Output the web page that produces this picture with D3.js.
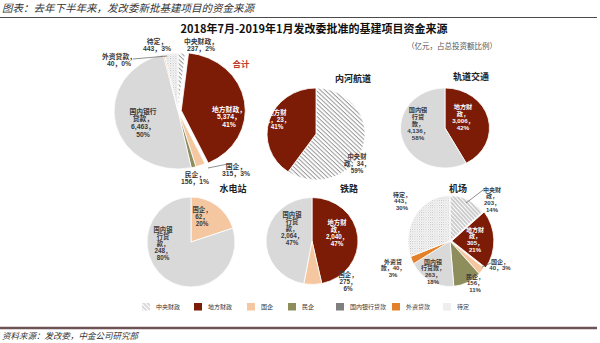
<!DOCTYPE html>
<html><head><meta charset="utf-8">
<script src="https://cdn.jsdelivr.net/npm/d3@7"></script>
<style>body{margin:0;background:#fff}svg{display:block}</style>
</head><body>
<script>
// ---------- DATA ----------
const categories = ["中央财政","地方财政","国企","民企","国内银行贷款","外资贷款","待定"];
const pieTitles = ["合计","内河航道","轨道交通","水电站","铁路","机场"];
const totalValues   = [237,5374,315,156,6463,40,443];
const totalPct      = ["2%","41%","3%","1%","50%","0%","3%"];
const inlandValues  = [34,23,0,0,0,0,0];
const inlandPct     = ["59%","41%","","","","",""];
const transitValues = [0,3006,0,0,4136,0,0];
const transitPct    = ["","42%","","","58%","",""];
const hydroValues   = [0,0,62,0,248,0,0];
const hydroPct      = ["","","20%","","80%","",""];
const railValues    = [0,2040,275,0,2064,0,0];
const railPct       = ["","47%","6%","","47%","",""];
const airportValues = [203,305,40,156,263,40,443];
const airportPct    = ["14%","21%","3%","11%","18%","3%","30%"];

// ---------- STYLE ----------
const sliceFill  = ["url(#hatch)","#7d1c06","#f5c7a0","#8e8d5c","#d9d9d9","#e2812a","url(#dots)"];
const legendFill = ["url(#hatchL)","#7d1c06","#f5c7a0","#8e8d5c","#7f7f7f","#e2812a","#eeeeee"];
const FONT = '"Noto Sans CJK SC","Noto Sans",sans-serif';
const LABEL_FONT = '"Liberation Sans","Noto Sans CJK SC",sans-serif';

const W = 600, H = 343;
const svg = d3.select("body").append("svg").attr("width", W).attr("height", H)
  .style("font-family", FONT);

const defs = svg.append("defs");
const ph = defs.append("pattern").attr("id","hatch").attr("patternUnits","userSpaceOnUse")
  .attr("width",3).attr("height",3).attr("patternTransform","rotate(-45)");
ph.append("rect").attr("width",3).attr("height",3).attr("fill","#fff");
ph.append("line").attr("x1",1).attr("x2",1).attr("y1",0).attr("y2",3).attr("stroke","#9a9a9a").attr("stroke-width",1);
const phL = defs.append("pattern").attr("id","hatchL").attr("patternUnits","userSpaceOnUse")
  .attr("width",3).attr("height",3).attr("patternTransform","rotate(-45)");
phL.append("rect").attr("width",3).attr("height",3).attr("fill","#fff");
phL.append("line").attr("x1",1).attr("x2",1).attr("y1",0).attr("y2",3).attr("stroke","#aaa").attr("stroke-width",0.9);
const pd = defs.append("pattern").attr("id","dots").attr("patternUnits","userSpaceOnUse")
  .attr("width",2.4).attr("height",2.4);
pd.append("rect").attr("width",2.4).attr("height",2.4).attr("fill","#fff");
pd.append("rect").attr("width",1).attr("height",1).attr("fill","#b5b5b5");
pd.append("rect").attr("x",1.2).attr("y",1.2).attr("width",1).attr("height",1).attr("fill","#d0d0d0");

// ---------- HEADER / FOOTER ----------
svg.append("text").attr("x",2).attr("y",9.5).attr("dominant-baseline","middle")
  .attr("font-size",10.5).attr("font-style","italic").attr("fill","#333")
  .text("图表：去年下半年来，发改委新批基建项目的资金来源");
svg.append("line").attr("x1",0).attr("x2",597).attr("y1",17.5).attr("y2",17.5)
  .attr("stroke","#4a4a4a").attr("stroke-width",1.2);
svg.append("line").attr("x1",0).attr("x2",597).attr("y1",328).attr("y2",328)
  .attr("stroke","#6d5356").attr("stroke-width",2.5);
svg.append("text").attr("x",2).attr("y",336.5).attr("dominant-baseline","middle")
  .attr("font-size",8.5).attr("font-style","italic").attr("fill","#333")
  .text("资料来源：发改委，中金公司研究部");

svg.append("text").attr("x",314).attr("y",30).attr("text-anchor","middle").attr("dominant-baseline","middle")
  .attr("font-size",11).attr("font-weight","bold").attr("fill","#111")
  .text("2018年7月-2019年1月发改委批准的基建项目资金来源");
svg.append("text").attr("x",452).attr("y",47).attr("text-anchor","middle").attr("dominant-baseline","middle")
  .attr("font-size",7.5).attr("fill","#555")
  .text("（亿元，占总投资额比例）");

// ---------- PIE LAYOUT ----------
const pies = [
  {t:0, values: totalValues, pct: totalPct, cx:178, cy:111, rx:64, ry:58, explode:{1:3},
   titleAt:[241,65], titleColor:"#c0392b", titleSize:8.5, fs:6.8, lh:7.6,
   labels:[
     {i:0, lines:["中央财政，","{v}，{p}"], at:[23,-69]},
     {i:1, lines:["地方财政，","{v}，","{p}"], at:[51,-1], white:true},
     {i:2, lines:["国企，","{v}，{p}"], at:[58,56], leader:[[50,53],[30,57]]},
     {i:3, lines:["民企，","{v}，{p}"], at:[17,64]},
     {i:4, lines:["国内银行","贷款，","{v}，","{p}"], at:[-35,1]},
     {i:5, lines:["外资贷款，","{v}，{p}"], at:[-59,-54], leader:[[-45,-52],[-11,-55]]},
     {i:6, lines:["待定，","{v}，{p}"], at:[-21,-69]}
   ]},
  {t:1, values: inlandValues, pct: inlandPct, cx:316, cy:134, rx:49, ry:46,
   titleAt:[353,80], fs:6.3, lh:7.2,
   labels:[
     {i:1, lines:["地方财","政，{v}，","{p}"], at:[-39,-21], white:true},
     {i:0, lines:["中央财","政，{v}，","{p}"], at:[41,23]}
   ]},
  {t:2, values: transitValues, pct: transitPct, cx:445, cy:128, rx:44.5, ry:40,
   titleAt:[471,78], fs:6.2, lh:7,
   labels:[
     {i:1, lines:["地方财","政，","{v}，","{p}"], at:[18,-21], white:true},
     {i:4, lines:["国内银","行贷","款，","{v}，","{p}"], at:[-27,-18]}
   ]},
  {t:3, values: hydroValues, pct: hydroPct, cx:191, cy:242, rx:44, ry:45,
   titleAt:[233,190], fs:6.3, lh:7.1,
   labels:[
     {i:2, lines:["国企，","{v}，","{p}"], at:[11,-32]},
     {i:4, lines:["国内银","行贷","款，","{v}，","{p}"], at:[-28,-12]}
   ]},
  {t:4, values: railValues, pct: railPct, cx:312, cy:241, rx:46, ry:43.5,
   titleAt:[349,190], fs:6.3, lh:7.2,
   labels:[
     {i:1, lines:["地方财","政，","{v}，","{p}"], at:[25,-18], white:true},
     {i:4, lines:["国内银","行贷","款，","{v}，","{p}"], at:[-20,-26]},
     {i:2, lines:["国企，","{v}，","{p}"], at:[36,34]}
   ]},
  {t:5, values: airportValues, pct: airportPct, cx:450, cy:241, rx:42, ry:45.5, explode:{1:2},
   titleAt:[458,190], fs:6, lh:6.9,
   labels:[
     {i:0, lines:["中央财","政，","{v}，","{p}"], at:[42,-51], leader:[[33,-51],[16,-38]]},
     {i:6, lines:["待定，","{v}，","{p}"], at:[-48,-46]},
     {i:1, lines:["地方财","政，","{v}，","{p}"], at:[25,-11], white:true},
     {i:2, lines:["国企，","{v}，{p}"], at:[50,21], leader:[[41,22],[32,26]]},
     {i:3, lines:["民企，","{v}，","{p}"], at:[25,36]},
     {i:4, lines:["国内银","行贷款，","{v}，","{p}"], at:[-17,21]},
     {i:5, lines:["外资贷","款，{v}，","{p}"], at:[-57,21]}
   ]}
];

const fmt = d3.format(",");
const pieGen = d3.pie().sort(null).value(d => d.v).startAngle(0).endAngle(2*Math.PI);

pies.forEach(p => {
  const arcGen = d3.arc().innerRadius(0).outerRadius(p.ry);
  const arcs = pieGen(p.values.map((v,i) => ({v, i})));
  const g = svg.append("g").attr("transform", `translate(${p.cx},${p.cy}) scale(${p.rx/p.ry},1)`);
  g.selectAll("path").data(arcs.filter(a => a.data.v > 0)).join("path")
    .attr("d", arcGen)
    .attr("fill", a => sliceFill[a.data.i])
    .attr("stroke", "#fff").attr("stroke-width", 0.8)
    .attr("vector-effect","non-scaling-stroke")
    .attr("transform", a => {
      const e = p.explode && p.explode[a.data.i];
      if (!e) return null;
      const m = (a.startAngle + a.endAngle)/2;
      return `translate(${Math.sin(m)*e},${-Math.cos(m)*e})`;
    });

  // title
  svg.append("text").attr("x", p.titleAt[0]).attr("y", p.titleAt[1])
    .attr("text-anchor","middle").attr("dominant-baseline","middle")
    .attr("font-size", p.titleSize || 9).attr("font-weight","bold")
    .attr("fill", p.titleColor || "#222")
    .text(pieTitles[p.t]);

  // labels
  p.labels.forEach(l => {
    if (l.leader) {
      svg.append("line")
        .attr("x1", p.cx + l.leader[0][0]).attr("y1", p.cy + l.leader[0][1])
        .attr("x2", p.cx + l.leader[1][0]).attr("y2", p.cy + l.leader[1][1])
        .attr("stroke","#444").attr("stroke-width",0.6);
    }
    l.lines.forEach((ln, k) => {
      const s = ln.replace("{v}", fmt(p.values[l.i])).replace("{p}", p.pct[l.i]);
      svg.append("text").attr("text-anchor","middle")
        .attr("font-family", LABEL_FONT)
        .attr("font-size", p.fs).attr("font-weight","bold")
        .attr("fill", l.white ? "#fff" : "#3a3a3a")
        .attr("x", p.cx + l.at[0]).attr("y", p.cy + l.at[1] + k*p.lh)
        .attr("dominant-baseline","middle").text(s);
    });
  });
});

// ---------- LEGEND ----------
const legendX = [142, 194, 247, 288, 336, 392, 443];
const lg = svg.append("g");
categories.forEach((c, i) => {
  lg.append("rect").attr("x", legendX[i]).attr("y", 303).attr("width", 8).attr("height", 7.5)
    .attr("fill", legendFill[i]);
  lg.append("text").attr("x", legendX[i] + 14).attr("y", 307).attr("dominant-baseline","middle")
    .attr("font-size", 6).attr("fill","#333").text(c);
});
</script>
</body></html>
